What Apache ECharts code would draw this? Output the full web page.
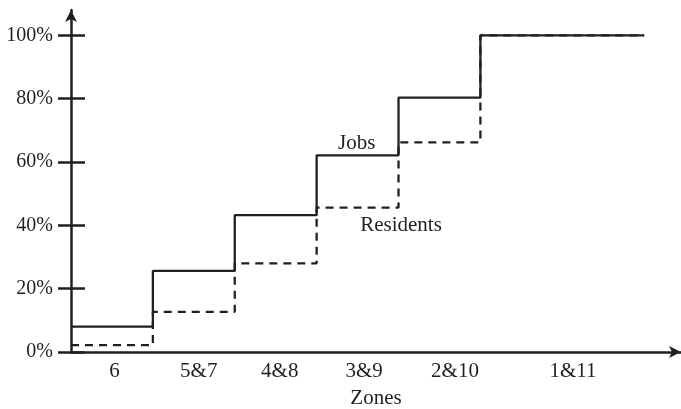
<!DOCTYPE html>
<html>
<head>
<meta charset="utf-8">
<script src="https://cdn.jsdelivr.net/npm/echarts@6/dist/echarts.min.js"></script>
<style>
html,body{margin:0;padding:0;background:#fff;}
#chart{width:681px;height:409px;}
</style>
</head>
<body>
<div id="chart"></div>
<script>
// Zone categories (left to right) and their edges along the x scale
var zoneLabels = ['6', '5&7', '4&8', '3&9', '2&10', '1&11'];
var zoneEdges = [0, 1, 2, 3, 4, 5, 7];
var zoneLabelPos = [0.53, 1.56, 2.55, 3.58, 4.69, 6.13];
// Cumulative share (%)
var jobs = [8.0, 25.6, 43.2, 62.1, 80.3, 100];
var residents = [2.2, 12.7, 28.0, 45.6, 66.2, 100];
var yTicks = [0, 20, 40, 60, 80, 100];

function stepPoints(vals) {
  var pts = [];
  for (var i = 0; i < vals.length; i++) pts.push([zoneEdges[i], vals[i]]);
  pts.push([zoneEdges[zoneEdges.length - 1], vals[vals.length - 1]]);
  return pts;
}

var ink = '#231f20';
var font = 'Liberation Serif';

var chart = echarts.init(document.getElementById('chart'), null, {renderer: 'canvas'});
chart.setOption({
  animation: false,
  backgroundColor: '#fff',
  grid: {left: 71, top: 10, width: 610, height: 342, containLabel: false, outerBoundsMode: 'none'},
  xAxis: {
    type: 'value', min: 0, max: 7.45,
    name: 'Zones', nameLocation: 'middle', nameGap: 36,
    nameTextStyle: {fontFamily: font, fontSize: 21, color: ink},
    axisLine: {show: true, lineStyle: {color: ink, width: 2.5}, symbol: ['none', 'arrow'], symbolSize: [9, 12]},
    axisTick: {show: false},
    splitLine: {show: false},
    axisLabel: {
      customValues: zoneLabelPos,
      margin: 9,
      fontFamily: font, fontSize: 21, color: ink,
      formatter: function (v) {
        for (var i = 0; i < zoneLabelPos.length; i++) if (Math.abs(zoneLabelPos[i] - v) < 1e-6) return zoneLabels[i];
        return '';
      }
    }
  },
  yAxis: [{
    type: 'value', min: 0, max: 108,
    axisLine: {show: true, lineStyle: {color: ink, width: 2.5}, symbol: ['none', 'arrow'], symbolSize: [9, 12]},
    axisTick: {show: true, customValues: yTicks, length: 13, inside: false, lineStyle: {color: ink, width: 2.5}},
    splitLine: {show: false},
    axisLabel: {
      customValues: yTicks, margin: 18,
      fontFamily: font, fontSize: 20, color: ink, padding: [3, 0, 0, 0],
      formatter: function (v) { return v + '%'; }
    }
  }, {
    type: 'value', min: 0, max: 108, position: 'left',
    axisLine: {show: false},
    axisTick: {show: true, customValues: yTicks, length: 14, inside: true, lineStyle: {color: ink, width: 2.5}},
    splitLine: {show: false},
    axisLabel: {show: false}
  }],
  series: [{
    name: 'Residents', type: 'line', step: 'end', showSymbol: false, z: 2,
    data: stepPoints(residents),
    lineStyle: {color: ink, width: 2.3, type: [8, 6]},
    markPoint: {
      symbol: 'circle', symbolSize: 0,
      label: {show: true, position: 'inside', formatter: 'Residents', fontFamily: font, fontSize: 21, color: ink},
      data: [{coord: [4.03, 40.0]}]
    }
  }, {
    name: 'Jobs', type: 'line', step: 'end', showSymbol: false, z: 3,
    data: stepPoints(jobs),
    lineStyle: {color: ink, width: 2.3},
    markPoint: {
      symbol: 'circle', symbolSize: 0,
      label: {show: true, position: 'inside', formatter: 'Jobs', fontFamily: font, fontSize: 21, color: ink},
      data: [{coord: [3.49, 66.0]}]
    }
  }]
});
</script>
</body>
</html>
